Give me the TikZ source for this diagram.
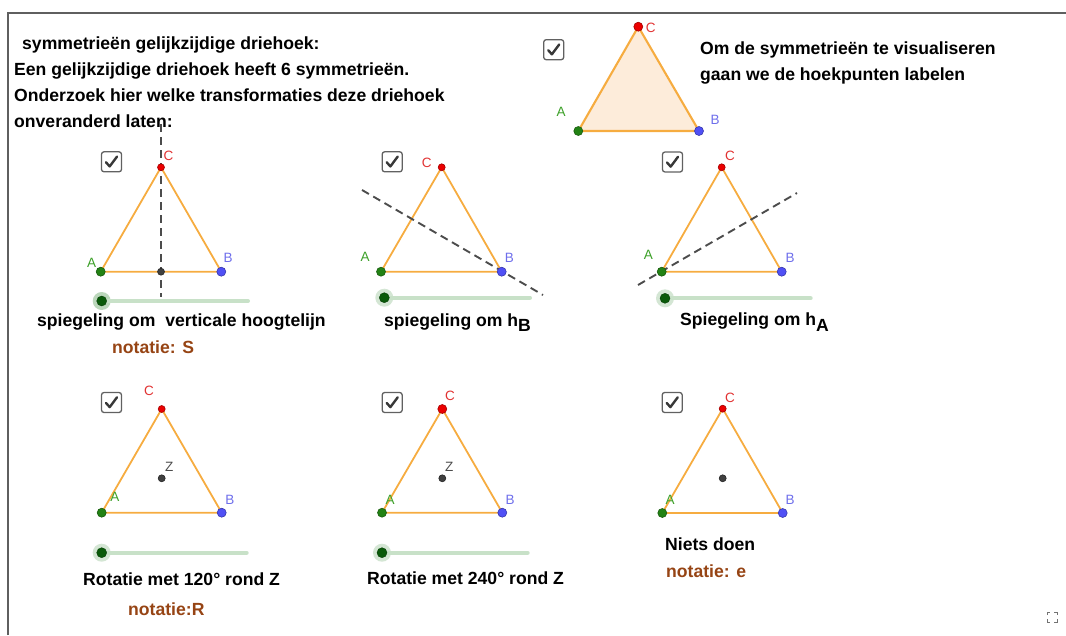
\documentclass[tikz,border=0pt]{standalone}
\usepackage{fontspec}
\setmainfont{Liberation Sans}
\definecolor{edgeor}{RGB}{246,172,64}
\definecolor{trifill}{RGB}{253,236,218}
\definecolor{ptA}{RGB}{34,130,20}
\definecolor{ptB}{RGB}{80,80,245}
\definecolor{ptC}{RGB}{235,0,0}
\definecolor{labA}{RGB}{60,160,40}
\definecolor{labB}{RGB}{110,110,235}
\definecolor{labC}{RGB}{225,50,50}
\definecolor{brownt}{RGB}{150,68,20}
\definecolor{slideline}{RGB}{200,225,200}
\definecolor{knob}{RGB}{10,90,10}
\definecolor{halo}{RGB}{170,205,170}
\definecolor{framec}{RGB}{95,95,95}
\begin{document}
\begin{tikzpicture}[x=1pt,y=-1pt,
  maintext/.style={font=\fontsize{17.6}{21}\selectfont\bfseries, inner sep=0pt, anchor=base west},
  notetext/.style={maintext, text=brownt},
  lab/.style={font=\fontsize{13.5}{15}\selectfont, inner sep=0pt},
  tri/.style={draw=edgeor, line width=1.8pt, line join=round},
  vpt/.style={circle, inner sep=0pt, minimum size=#1, line width=0.6pt},
  vA/.style={vpt=9pt, fill=ptA, draw=ptA!70!black},
  vB/.style={vpt=9pt, fill=ptB, draw=ptB!70!black},
  vC/.style={vpt=8pt, fill=ptC, draw=ptC!70!black},
  vZ/.style={vpt=7pt, fill=black!75, draw=black!85},
  axisline/.style={draw=black!70, line width=1.9pt, dash pattern=on 8pt off 5pt},
  cbox/.style={draw=black!62, fill=white, line width=1.3pt, rounded corners=2.5pt, minimum size=20pt, inner sep=0pt},
  sliderline/.style={draw=slideline, line width=4pt, line cap=round},
  knobpt/.style={circle, fill=knob, draw=knob!70!black, inner sep=0pt, minimum size=10pt},
  halopt/.style={circle, fill=halo, inner sep=0pt, minimum size=18pt, opacity=0.8}
]
\useasboundingbox (0,0) rectangle (1066,635);
% frame
\draw[framec, line width=1.5pt] (8,635) -- (8,13) -- (1066,13);

\tikzset{checkmark/.pic={\draw[black!78, line width=2.4pt, line cap=round, line join=round] (-5.5,0.5) -- (-1.8,4.6) -- (5.5,-5.2);}}

% ---------- top texts ----------
\node[maintext] (t1) at (22,49) {symmetrieën gelijkzijdige driehoek:};
\node[maintext] (t2) at (14,75) {Een gelijkzijdige driehoek heeft 6 symmetrieën.};
\node[maintext] (t3) at (14,101) {Onderzoek hier welke transformaties deze driehoek};
\node[maintext] (t4) at (14,127) {onveranderd laten:};
\node[maintext] (r1) at (700,54) {Om de symmetrieën te visualiseren};
\node[maintext] (r2) at (700,80) {gaan we de hoekpunten labelen};

% ---------- top triangle ----------
\node[cbox] (cb0) at (553.7,49.7) {};
\pic at (cb0) {checkmark};
\coordinate (T0A) at (578.3,131);
\coordinate (T0B) at (699,131);
\coordinate (T0C) at (638.3,26.7);
\fill[trifill] (T0A) -- (T0B) -- (T0C) -- cycle;
\draw[tri, line width=2.1pt] (T0A) -- (T0B) -- (T0C) -- cycle;
\node[vA] (P0A) at (T0A) {};
\node[vB] (P0B) at (T0B) {};
\node[vC, vpt=9pt] (P0C) at (T0C) {};
\node[lab, text=labC] (L0C) at (650.7,28) {C};
\node[lab, text=labA] (L0A) at (561,111.7) {A};
\node[lab, text=labB] (L0B) at (715,120) {B};

% ---------- triangle 1 : vertical altitude ----------
\node[cbox] (cb1) at (111.5,161.8) {};
\pic at (cb1) {checkmark};
\coordinate (T1A) at (100.7,271.7);
\coordinate (T1B) at (221.3,271.7);
\coordinate (T1C) at (161,167.3);
\coordinate (D1a) at (161,124);
\coordinate (D1b) at (161,297);
\draw[tri] (T1A) -- (T1B) -- (T1C) -- cycle;
\draw[axisline] (D1a) -- (D1b);
\node[vZ] (M1) at (161,271.7) {};
\node[vA] (P1A) at (T1A) {};
\node[vB] (P1B) at (T1B) {};
\node[vC, vpt=7pt] (P1C) at (T1C) {};
\node[lab, text=labC] (L1C) at (168.5,156) {C};
\node[lab, text=labA] (L1A) at (91.7,262.7) {A};
\node[lab, text=labB] (L1B) at (228,258) {B};
\coordinate (S1e) at (248,301);
\node[halopt] (H1) at (101.7,301) {};
\draw[sliderline] (H1.center) -- (S1e);
\node[knobpt] (K1) at (H1) {};
\node[maintext] (n1) at (37,326) {spiegeling om\ \ verticale hoogtelijn};
\node[notetext] (s1) at (112,353) {notatie: S};

% ---------- triangle 2 : h_B ----------
\node[cbox] (cb2) at (392.2,161.8) {};
\pic at (cb2) {checkmark};
\coordinate (T2A) at (381,271.7);
\coordinate (T2B) at (501.7,271.7);
\coordinate (T2C) at (441.7,167.3);
\coordinate (D2a) at (362,190);
\coordinate (D2b) at (543,295);
\draw[tri] (T2A) -- (T2B) -- (T2C) -- cycle;
\draw[axisline] (D2a) -- (D2b);
\node[vA] (P2A) at (T2A) {};
\node[vB] (P2B) at (T2B) {};
\node[vC, vpt=7pt] (P2C) at (T2C) {};
\node[lab, text=labC] (L2C) at (426.7,163.3) {C};
\node[lab, text=labA] (L2A) at (365,256.7) {A};
\node[lab, text=labB] (L2B) at (509.3,258.3) {B};
\coordinate (S2e) at (530,297.7);
\node[halopt, opacity=0.5] (H2) at (384.3,297.7) {};
\draw[sliderline] (H2.center) -- (S2e);
\node[knobpt] (K2) at (H2) {};
\node[maintext] (n2) at (384,326) {spiegeling om h\raisebox{-5pt}{B}};

% ---------- triangle 3 : h_A ----------
\node[cbox] (cb3) at (672.5,162) {};
\pic at (cb3) {checkmark};
\coordinate (T3A) at (661.7,271.7);
\coordinate (T3B) at (781.7,271.7);
\coordinate (T3C) at (721.7,167.3);
\coordinate (D3a) at (638,285);
\coordinate (D3b) at (797,193);
\draw[tri] (T3A) -- (T3B) -- (T3C) -- cycle;
\draw[axisline] (D3a) -- (D3b);
\node[vA] (P3A) at (T3A) {};
\node[vB] (P3B) at (T3B) {};
\node[vC, vpt=7pt] (P3C) at (T3C) {};
\node[lab, text=labC] (L3C) at (730,156) {C};
\node[lab, text=labA] (L3A) at (648.3,255) {A};
\node[lab, text=labB] (L3B) at (790,258.3) {B};
\coordinate (S3e) at (810.7,298.3);
\node[halopt, opacity=0.5] (H3) at (665,298.3) {};
\draw[sliderline] (H3.center) -- (S3e);
\node[knobpt] (K3) at (H3) {};
\node[maintext] (n3) at (680,325) {Spiegeling om h\raisebox{-6pt}{A}};

% ---------- triangle 4 : rotation 120 ----------
\node[cbox] (cb4) at (111.5,402.5) {};
\pic at (cb4) {checkmark};
\coordinate (T4A) at (101.7,512.7);
\coordinate (T4B) at (221.7,512.7);
\coordinate (T4C) at (161.7,409);
\draw[tri] (T4A) -- (T4B) -- (T4C) -- cycle;
\node[vZ] (Z4) at (161.7,478.3) {};
\node[vA] (P4A) at (T4A) {};
\node[vB] (P4B) at (T4B) {};
\node[vC, vpt=7pt] (P4C) at (T4C) {};
\node[lab, text=labC] (L4C) at (149,391) {C};
\node[lab, text=labA] (L4A) at (115,497.3) {A};
\node[lab, text=labB] (L4B) at (230,500) {B};
\node[lab, text=black!70] (L4Z) at (169.3,467.3) {Z};
\coordinate (S4e) at (246.7,552.7);
\node[halopt, opacity=0.5] (H4) at (101.7,552.7) {};
\draw[sliderline] (H4.center) -- (S4e);
\node[knobpt] (K4) at (H4) {};
\node[maintext] (n4) at (83,585) {Rotatie met 120° rond Z};
\node[notetext] (s4) at (128,615) {notatie:R};

% ---------- triangle 5 : rotation 240 ----------
\node[cbox] (cb5) at (392.2,402.5) {};
\pic at (cb5) {checkmark};
\coordinate (T5A) at (382,512.7);
\coordinate (T5B) at (502.3,512.7);
\coordinate (T5C) at (442.3,409);
\draw[tri] (T5A) -- (T5B) -- (T5C) -- cycle;
\node[vZ] (Z5) at (442.3,478.3) {};
\node[vA] (P5A) at (T5A) {};
\node[vB] (P5B) at (T5B) {};
\node[vC, vpt=9pt] (P5C) at (T5C) {};
\node[lab, text=labC] (L5C) at (450,396) {C};
\node[lab, text=labA] (L5A) at (390,500) {A};
\node[lab, text=labB] (L5B) at (510,500) {B};
\node[lab, text=black!70] (L5Z) at (449.3,467.3) {Z};
\coordinate (S5e) at (527.7,552.7);
\node[halopt, opacity=0.5] (H5) at (382,552.7) {};
\draw[sliderline] (H5.center) -- (S5e);
\node[knobpt] (K5) at (H5) {};
\node[maintext] (n5) at (367,584) {Rotatie met 240° rond Z};

% ---------- triangle 6 : identity ----------
\node[cbox] (cb6) at (672.2,402.5) {};
\pic at (cb6) {checkmark};
\coordinate (T6A) at (662.3,513);
\coordinate (T6B) at (782.7,513);
\coordinate (T6C) at (722.7,408.7);
\draw[tri] (T6A) -- (T6B) -- (T6C) -- cycle;
\node[vZ] (Z6) at (722.7,478.3) {};
\node[vA] (P6A) at (T6A) {};
\node[vB] (P6B) at (T6B) {};
\node[vC, vpt=7pt] (P6C) at (T6C) {};
\node[lab, text=labC] (L6C) at (730,398.3) {C};
\node[lab, text=labA] (L6A) at (670,500) {A};
\node[lab, text=labB] (L6B) at (790,500) {B};
\node[maintext] (n6) at (665,550) {Niets doen};
\node[notetext] (s6) at (666,577) {notatie: e};

% ---------- fullscreen icon ----------
\coordinate (FS) at (1052,617);
\begin{scope}[shift={(FS)}, draw=black!55, line width=1pt]
  \draw (-5,-2) -- (-5,-5) -- (-2,-5);
  \draw (2,-5) -- (5,-5) -- (5,-2);
  \draw (5,2) -- (5,5) -- (2,5);
  \draw (-2,5) -- (-5,5) -- (-5,2);
\end{scope}
\end{tikzpicture}
\end{document}
